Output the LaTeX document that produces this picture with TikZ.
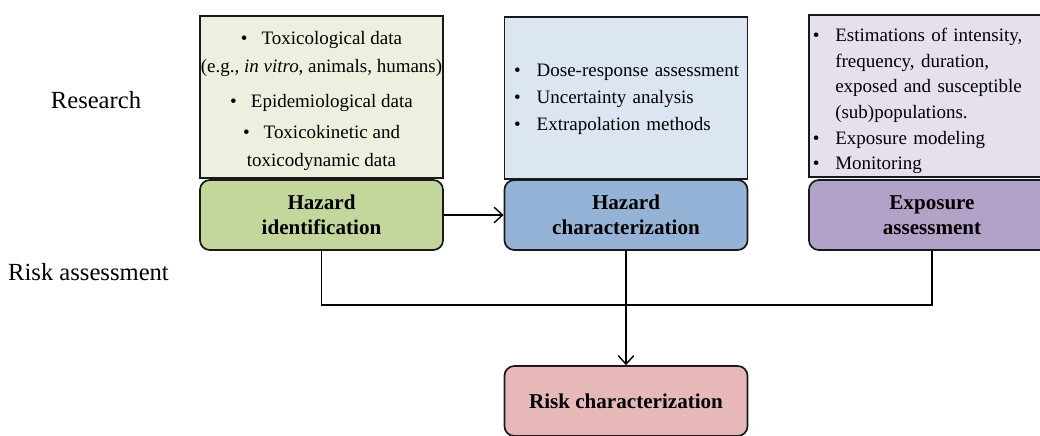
\documentclass[tikz,border=0pt]{standalone}
\usepackage{fontspec}
\setmainfont{Liberation Serif}
\usetikzlibrary{arrows.meta}
\definecolor{greenlt}{HTML}{EBF1DE}
\definecolor{greendk}{HTML}{C3D69B}
\definecolor{bluelt}{HTML}{DCE6F2}
\definecolor{bluedk}{HTML}{95B3D7}
\definecolor{purplelt}{HTML}{E6E0EC}
\definecolor{purpledk}{HTML}{B3A2C7}
\definecolor{pinkdk}{HTML}{E6B9B8}
\tikzstyle{arrow} = [line width=1pt,->,>={Straight Barb[length=6pt,width=11pt]}]
\tikzstyle{conn} = [line width=1pt]
\tikzstyle{infobox} = [draw=black!90, line width=1.2pt, minimum width=6.075cm, minimum height=4.05cm, inner sep=0pt]
\tikzstyle{boxtext} = [inner sep=0pt, font=\fontsize{13.5}{19.5}\selectfont]
\tikzstyle{stagebox} = [draw=black!90, line width=1.2pt, rounded corners=7pt, minimum width=6.075cm, minimum height=1.75cm, align=center, font=\fontsize{15}{18}\selectfont\bfseries]
\tikzstyle{sidelabel} = [font=\fontsize{17.5}{21}\selectfont]
\newcommand{\bul}{\makebox[16pt][l]{\textbullet}}
\newcommand{\ind}{\hspace*{16pt}}

\begin{document}
\begin{tikzpicture}[x=0.025cm, y=-0.025cm]
		\useasboundingbox (0,0) rectangle (1040,435);
		% research row
		\node (research) [sidelabel] at (96,100) {Research};
		\node (hidata) [infobox, fill=greenlt] at (321.5,97) {};
		\node (hitext) [boxtext, align=center, font=\fontsize{13.5}{20}\selectfont] at (321.5,101) {\textbullet\hspace{10pt}Toxicological data\\(e.g., \textit{in vitro}, animals, humans)\\[5pt]\textbullet\hspace{10pt}Epidemiological data\\[2pt]\textbullet\hspace{10pt}Toxicokinetic and\\toxicodynamic data};
		\node (hcdata) [infobox, fill=bluelt] at (626,98) {};
		\node (hctext) [boxtext, align=left, text width=5.8cm] at (626,99.5) {\hspace*{3pt}\bul Dose-response assessment\\[-0.4pt]\hspace*{3pt}\bul Uncertainty analysis\\[-0.4pt]\hspace*{3pt}\bul Extrapolation methods};
		\node (eadata) [infobox, fill=purplelt, minimum width=6.15cm] at (932,96) {};
		\node (eatext) [boxtext, align=left, text width=6.1cm] at (932,101) {\hspace*{2pt}\bul Estimations of intensity,\\[-1.3pt]\hspace*{2pt}\ind frequency, duration,\\[-1.3pt]\hspace*{2pt}\ind exposed and susceptible\\[-1.3pt]\hspace*{2pt}\ind (sub)populations.\\[-1.3pt]\hspace*{2pt}\bul Exposure modeling\\[-1.3pt]\hspace*{2pt}\bul Monitoring};
		% risk assessment row
		\node (riskass) [sidelabel] at (88.5,272) {Risk assessment};
		\node (hid) [stagebox, fill=greendk] at (321.5,215) {Hazard\\identification};
		\node (hc) [stagebox, fill=bluedk] at (626,215) {Hazard\\characterization};
		\node (ea) [stagebox, fill=purpledk, minimum width=6.15cm] at (932,215) {Exposure\\assessment};
		\node (rc) [stagebox, fill=pinkdk] at (626,401) {Risk characterization};
		\coordinate (join) at (626,305);
		\draw [arrow] (hid) -- (hc);
		\draw [conn] (hid.south) |- (join);
		\draw [conn] (ea.south) |- (join);
		\draw [conn] (hc.south) -- (join);
		\draw [arrow] (join) -- (rc.north);
\end{tikzpicture}
\end{document}
